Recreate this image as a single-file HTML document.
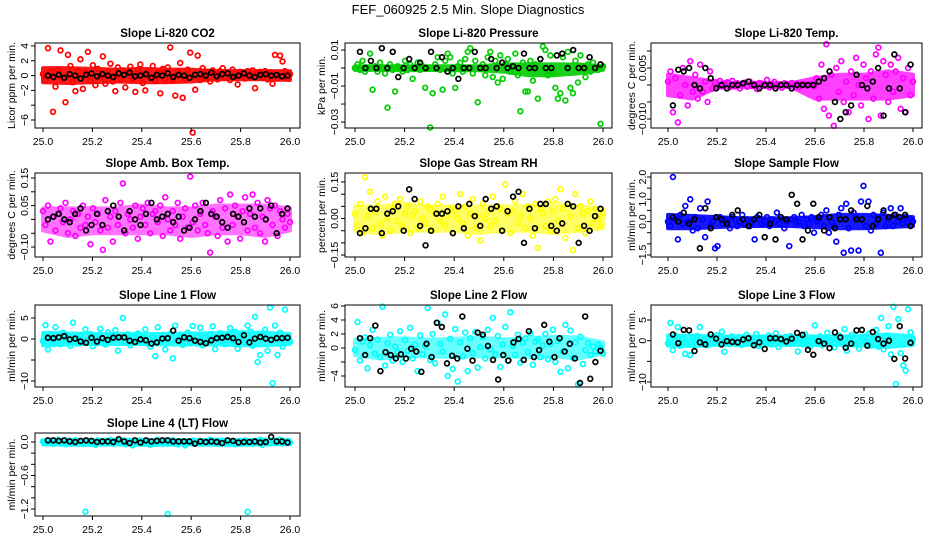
<!DOCTYPE html>
<html><head><meta charset="utf-8"><style>
html,body{margin:0;padding:0;background:#fff;}
svg text{font-family:"Liberation Sans",Arial,sans-serif;fill:#000;}
</style></head><body>
<svg id="chart" width="936" height="540" viewBox="0 0 936 540" xmlns="http://www.w3.org/2000/svg">
<rect width="936" height="540" fill="#fff"/>
<text x="468" y="14" text-anchor="middle" font-size="13">FEF_060925  2.5 Min. Slope Diagnostics</text>
</svg>
<script>
const xTickValues=[25.0,25.2,25.4,25.6,25.8,26.0];
const xTickLabels=["25.0","25.2","25.4","25.6","25.8","26.0"];
const bandX=[25.0,25.1,25.2,25.3,25.4,25.5,25.6,25.7,25.8,25.9,26.0];
const panelTitles=["Slope Li-820 CO2","Slope Li-820 Pressure","Slope Li-820 Temp.","Slope Amb. Box Temp.","Slope Gas Stream RH","Slope Sample Flow","Slope Line 1 Flow","Slope Line 2 Flow","Slope Line 3 Flow","Slope Line 4 (LT) Flow"];
const yAxisTitles=["Licor ppm per min.","kPa per min.","degrees C per min.","degrees C per min.","percent per min.","ml/min per min.","ml/min per min.","ml/min per min.","ml/min per min.","ml/min per min."];
const yTicks=[[4,2,0,-2,-4,-6],[0.01,0,-0.01,-0.02,-0.03],[0.01,0.005,0,-0.005,-0.01],[0.15,0.1,0.05,0,-0.05,-0.1],[0.15,0.1,0.05,0,-0.05,-0.1,-0.15],[2,1.5,1,0.5,0,-0.5,-1,-1.5],[5,0,-5,-10],[6,4,2,0,-2,-4],[5,0,-5,-10],[0,-0.2,-0.4,-0.6,-0.8,-1,-1.2]];
const yTickLabels=[["4","2","0","\u22122","","\u22126"],["0.01","","\u22120.01","","\u22120.03"],["","0.005","","","\u22120.010"],["0.15","","0.05","","","\u22120.10"],["0.15","","","0.00","","","\u22120.15"],["2.0","","1.0","","0.0","","","\u22121.5"],["5","0","","\u221210"],["6","4","2","0","","\u22124"],["5","0","","\u221210"],["0.0","","","\u22120.6","","","\u22121.2"]];
const yDomains=[[-7.08,4.4],[-0.0333,0.0139],[-0.01265,0.01235],[-0.136,0.168],[-0.158,0.187],[-1.59,2.18],[-11.43,8.1],[-5.57,6.14],[-11.2,8.63],[-1.325,0.161]];
const seriesColors=["#ff0000","#00cd00","#ff00ff","#ff00ff","#ffff00","#0000ff","#00ffff","#00ffff","#00ffff","#00ffff"];
const bandOpacity=[0.9,0.9,0.75,0.55,0.6,0.9,0.85,0.6,0.85,0.9];
const bandHi=[[1.0,1.0,0.9,0.8,0.9,0.8,0.8,0.6,0.6,0.6,0.6],[0.001,0.001,0.001,0.001,0.001,0.001,0.002,0.002,0.002,0.002,0.001],[0.003,0.002,0.0008,0.0006,0.0006,0.0005,0.002,0.003,0.003,0.004,0.003],[0.04,0.04,0.04,0.04,0.05,0.04,0.04,0.05,0.05,0.05,0.04],[0.05,0.05,0.06,0.05,0.05,0.05,0.05,0.05,0.06,0.05,0.04],[0.3,0.25,0.2,0.15,0.15,0.15,0.2,0.3,0.3,0.25,0.2],[1.5,1.3,1.2,1.2,1.2,1.2,1.3,1.4,1.6,1.5,1.2],[1.2,1.3,1.4,1.2,1.3,1.5,1.2,1.4,1.6,1.5,0.8],[1.2,1.2,1.0,1.0,1.0,1.0,1.0,1.0,1.2,1.5,1.0],[0.03,0.04,0.03,0.04,0.03,0.04,0.03,0.04,0.03,0.04,0.03]];
const bandLo=[[-0.9,-1.0,-0.9,-0.8,-0.9,-0.9,-0.8,-0.5,-0.5,-0.5,-0.6],[-0.001,-0.001,-0.0012,-0.001,-0.0012,-0.0012,-0.002,-0.004,-0.004,-0.003,-0.001],[-0.003,-0.004,-0.0008,-0.0006,-0.0006,-0.0005,-0.004,-0.004,-0.004,-0.004,-0.003],[-0.04,-0.06,-0.05,-0.05,-0.05,-0.05,-0.06,-0.05,-0.05,-0.06,-0.04],[-0.05,-0.06,-0.05,-0.05,-0.05,-0.06,-0.05,-0.05,-0.06,-0.05,-0.04],[-0.3,-0.3,-0.25,-0.2,-0.2,-0.2,-0.25,-0.3,-0.3,-0.25,-0.2],[-1.5,-1.3,-1.2,-1.2,-1.2,-1.3,-1.3,-1.3,-1.5,-1.5,-1.2],[-1.0,-1.5,-1.2,-1.2,-1.3,-1.2,-1.2,-1.3,-1.2,-1.5,-0.8],[-1.2,-1.3,-1.0,-1.0,-1.0,-1.0,-1.0,-1.0,-1.2,-1.5,-1.0],[-0.04,-0.05,-0.05,-0.04,-0.05,-0.05,-0.04,-0.05,-0.05,-0.04,-0.04]];
const co2Color=[0.2,-0.6,3.7,0.5,-4.9,-1.5,0.8,3.4,-0.4,-3.6,2.8,1.3,-0.9,-2.1,0.6,2.2,-1.8,0.4,3.2,-0.7,1.4,-1.3,0.9,-0.2,2.6,-1.1,0.5,1.6,-0.8,-2.1,1.1,-0.5,0.7,-1.6,0.3,1.2,-0.4,-2.2,0.8,1.5,-1.0,-2.0,0.6,-0.3,1.3,-0.7,0.4,-2.4,0.9,-0.5,1.1,3.8,-0.6,-2.7,0.5,1.7,-3.0,-0.4,0.8,3.1,-7.7,-1.9,2.7,-0.6,1.0,-0.3,0.5,-0.8,0.7,0.2,-0.5,0.6,1.0,-0.3,0.4,-0.6,0.8,-0.2,-1.2,0.5,0.3,-0.4,0.6,-0.2,0.7,-1.7,0.3,0.5,-0.3,0.6,-0.5,0.4,-1.1,2.8,-0.4,2.7,1.9,0.6,-0.3,0.2];
const co2Black=[0.0,-0.2,0.1,-0.3,0.2,0.0,-0.4,0.1,0.3,-0.1,0.2,0.0,-0.2,0.3,0.1,0.4,-0.1,0.0,0.2,-0.3,0.1,0.0,0.3,-0.2,0.1,0.0,-0.3,0.1,0.2,0.0,0.4,-0.1,0.2,0.3,-0.2,0.0,0.3,0.0,-0.2,0.1,0.2,0.0,0.1,-0.1,0.0];
const presColor=[0.000,0.002,-0.001,0.004,-0.002,0.000,0.008,-0.012,0.001,-0.002,0.003,0.000,-0.003,-0.022,0.002,-0.001,-0.013,0.001,0.000,-0.002,0.004,-0.001,0.002,-0.006,0.000,0.003,-0.001,0.001,-0.011,0.000,-0.033,-0.014,0.002,0.006,-0.001,-0.012,0.004,0.008,0.006,-0.003,-0.011,0.001,0.003,-0.002,0.005,0.009,0.011,-0.003,0.004,-0.019,0.000,0.002,-0.004,0.006,0.009,-0.005,0.004,-0.008,0.007,-0.006,0.002,0.005,-0.002,0.001,0.008,-0.004,-0.024,0.003,-0.013,-0.013,0.004,-0.007,0.002,-0.017,0.005,0.012,0.010,-0.004,0.007,-0.002,-0.011,-0.017,-0.014,0.006,-0.018,0.009,-0.011,-0.014,0.004,-0.008,0.007,0.001,-0.005,0.002,-0.002,0.003,0.000,-0.001,-0.031,0.001];
const presBlack=[0.009,0.000,0.004,0.000,0.011,0.000,0.009,-0.005,0.000,0.005,0.000,0.003,0.000,0.009,0.000,0.006,-0.002,0.000,-0.006,0.000,0.000,0.009,0.000,0.000,0.005,0.000,0.003,0.000,0.001,0.000,0.008,0.000,0.000,0.005,0.000,0.000,0.007,0.008,0.000,0.010,0.000,0.000,0.006,0.000,0.002];
const tempColor=[0.001,0.004,-0.008,0.002,-0.011,-0.003,0.005,0.000,-0.006,0.007,-0.002,0.003,-0.004,0.006,-0.002,0.001,-0.005,0.004,-0.001,0.0008,-0.0006,0.0012,-0.0004,0.0005,0.0008,-0.0006,0.0012,-0.0004,0.0005,-0.0010,0.0003,0.0007,-0.0005,0.0010,-0.0003,0.0002,-0.0012,0.0006,0.0004,-0.0002,0.0015,-0.0007,0.0003,0.0009,-0.0004,0.0001,-0.0008,0.0005,0.0002,-0.0003,0.0006,-0.0001,0.0004,-0.0006,0.0003,0.0002,-0.0002,0.0001,0.0003,-0.0004,0.002,-0.004,0.006,-0.007,0.012,-0.009,0.003,-0.012,0.005,-0.002,0.007,-0.005,0.001,-0.008,0.004,-0.003,0.008,0.000,-0.006,0.006,0.002,-0.010,0.004,-0.004,0.009,0.011,-0.009,0.007,0.003,-0.005,0.006,-0.002,0.004,0.008,-0.007,0.002,-0.008,0.005,-0.003,0.001];
const tempBlack=[-0.006,0.0045,0.004,0.005,0.000,-0.001,0.005,0.002,-0.001,0.0,-0.001,0.000,0.000,0.0005,0.001,0.000,-0.001,0.000,0.000,-0.001,0.000,0.000,-0.001,0.000,0.000,0.000,0.000,0.001,0.002,0.004,-0.005,-0.010,-0.008,-0.006,0.003,0.000,-0.001,0.001,0.005,-0.009,-0.001,0.009,-0.001,-0.008,0.006];
const boxColor=[0.03,-0.02,0.05,-0.08,0.01,-0.04,0.02,0.04,-0.01,0.06,-0.05,0.00,0.03,-0.06,0.02,-0.03,0.05,-0.02,0.01,-0.09,0.04,-0.01,0.02,-0.04,-0.11,0.07,-0.03,0.01,-0.08,0.03,-0.02,0.06,0.13,-0.05,0.02,0.00,-0.03,0.05,-0.07,0.01,0.04,-0.02,0.06,-0.05,0.02,0.03,-0.01,0.05,-0.06,0.08,0.00,-0.04,0.03,-0.02,0.06,-0.07,0.01,0.04,-0.03,0.155,-0.01,0.05,-0.04,0.02,0.06,-0.02,-0.05,-0.12,0.03,0.01,-0.06,0.07,-0.03,0.04,-0.08,0.09,-0.02,0.05,0.01,-0.07,0.03,0.08,-0.04,0.02,0.09,-0.03,0.06,-0.05,0.01,-0.08,0.07,0.04,-0.02,0.05,-0.06,0.03,0.00,-0.03,0.02,-0.01];
const boxBlack=[0.00,0.01,0.02,0.00,-0.01,0.02,0.04,-0.04,-0.02,0.02,-0.02,0.03,0.05,0.01,-0.04,0.03,0.00,-0.02,0.02,0.06,0.00,0.01,0.02,-0.01,0.01,-0.04,-0.03,0.00,0.03,0.06,0.02,0.01,-0.01,-0.03,0.02,0.01,-0.01,0.04,0.01,0.04,0.00,0.05,-0.05,0.02,0.04];
const rhColor=[0.02,-0.03,0.06,-0.06,0.17,0.01,0.11,-0.04,0.03,0.07,-0.02,-0.07,0.09,0.00,-0.05,0.04,0.06,-0.01,0.08,-0.03,0.02,0.05,-0.06,0.01,0.03,-0.04,0.07,0.00,-0.02,0.05,0.04,-0.05,0.02,0.06,-0.01,0.09,-0.03,0.01,0.04,-0.06,0.03,0.00,0.10,-0.02,0.05,-0.07,0.02,0.08,-0.04,0.01,-0.09,0.06,0.00,0.03,-0.03,0.09,-0.01,0.05,0.04,-0.05,0.14,0.02,-0.06,0.03,0.07,-0.02,0.01,0.10,-0.04,0.05,0.00,-0.07,0.06,-0.12,0.04,0.02,-0.03,0.07,-0.05,0.03,0.08,-0.01,0.12,0.04,-0.08,0.06,0.01,-0.13,0.10,-0.04,0.05,0.02,-0.06,0.03,0.07,-0.02,0.04,0.00,-0.03,0.02];
const rhBlack=[-0.06,-0.04,0.04,0.04,-0.06,0.02,0.03,0.05,-0.05,0.12,0.08,-0.03,-0.11,-0.05,0.02,0.02,0.03,-0.06,0.05,-0.04,0.06,0.01,-0.03,0.08,0.04,0.05,-0.05,0.03,0.09,0.11,-0.10,0.04,-0.04,0.06,0.06,-0.03,-0.05,-0.02,0.06,0.05,-0.10,-0.03,-0.05,0.01,0.04];
const sampColor=[0.0,-0.2,2.0,0.1,-0.8,0.3,-0.1,0.7,0.0,1.0,-0.4,0.2,-0.3,0.6,0.1,-0.7,0.9,-0.2,0.0,-1.2,-1.1,0.2,-0.1,0.1,0.0,-0.3,0.2,0.1,-0.2,0.0,0.3,-0.1,0.1,-0.2,0.0,-0.8,0.2,0.1,-0.1,0.0,0.2,-0.2,0.1,0.0,0.4,-0.1,0.1,-0.3,0.0,-1.1,0.1,0.2,-0.1,0.0,0.3,-0.2,0.1,-0.1,0.2,-0.5,0.0,0.1,0.3,-0.2,0.5,-0.5,0.0,-0.2,-0.9,0.3,0.6,-1.4,0.8,-0.3,-1.3,0.4,0.2,-1.3,0.9,1.6,-0.2,0.9,-0.4,0.3,-0.1,0.2,-1.4,0.4,-0.2,0.1,0.6,-0.2,0.3,0.0,0.6,-0.1,0.2,0.0,0.1,0.0];
const sampBlack=[0.2,0.0,0.4,-0.1,0.1,-1.2,0.6,-0.3,0.2,0.1,-0.1,0.3,0.5,0.1,-0.2,0.1,0.3,-0.7,-0.1,-0.8,0.2,0.1,1.2,0.8,-0.8,-0.4,0.8,0.2,-0.4,0.2,-0.3,0.1,0.1,0.5,0.1,0.1,0.7,-0.2,0.1,0.5,0.2,0.3,0.2,0.3,-0.2];
const line1Color=[-0.5,3.3,-2.5,1.0,-0.8,2.8,0.3,-1.2,1.5,-0.4,0.8,-1.6,3.9,0.2,-1.1,0.9,-0.6,2.3,-0.3,1.2,-1.7,0.5,-0.9,2.4,0.1,-1.3,1.6,-0.2,0.7,2.1,-2.8,0.4,5.0,-0.7,1.1,-1.5,0.6,-0.1,1.3,-0.8,0.2,2.3,-1.0,-1.8,0.5,-4.1,2.8,-0.6,0.9,-2.5,0.1,1.2,-4.6,3.2,-0.3,0.8,-1.4,0.2,1.5,-0.9,3.1,-0.2,0.6,2.7,-1.5,0.3,-0.7,1.1,3.0,-2.4,0.4,1.4,-0.5,-1.2,0.8,2.6,-0.4,1.7,-2.3,0.5,1.0,-0.8,3.2,1.8,-1.6,5.3,-5.5,-3.8,0.9,2.2,-2.8,7.5,-10.5,3.2,-3.8,1.5,-1.8,7.0,0.4,-0.6];
const line1Black=[0.3,0.2,0.4,0.7,-0.1,0.1,-0.6,-0.9,0.3,-0.6,0.2,-0.2,0.3,0.4,0.4,-0.4,-0.7,-0.1,-0.3,-1.1,-0.8,0.1,0.2,2.0,-0.4,0.4,0.2,-0.4,-0.7,-1.0,-0.3,0.2,0.3,0.5,0.2,-0.7,0.9,-0.8,0.1,0.5,0.1,-0.2,0.2,0.2,0.3];
const line2Color=[-0.3,3.7,-1.8,0.9,1.5,-2.9,0.4,2.6,-0.8,1.2,-1.3,5.9,-2.5,0.7,1.9,-1.8,0.2,-0.6,2.4,-2.0,1.1,-0.4,2.9,-1.5,0.5,-3.3,1.8,-0.9,0.3,5.7,-1.7,2.0,-2.2,3.6,0.6,-0.5,4.8,-4.0,1.3,-3.0,2.7,-4.8,0.8,-1.2,2.2,-3.3,1.4,-0.7,2.3,-2.8,0.1,1.6,-1.5,2.6,-0.2,4.3,-0.9,1.7,-2.7,0.5,3.0,-1.8,5.1,0.3,-1.0,1.9,-2.1,0.7,1.4,-0.6,2.1,-2.4,0.9,1.2,-1.3,0.4,2.0,-1.6,0.6,2.6,-2.0,1.0,-3.4,-0.5,3.3,-2.9,2.5,-1.4,0.8,-5.2,1.6,-2.3,-0.3,0.7,-1.0,0.2,-0.5,0.5,0.1,-0.8];
const line2Black=[1.4,-1.0,1.4,3.2,-3.3,-0.6,-1.0,-1.5,-0.9,-1.5,-0.1,-0.5,-3.4,0.6,-1.3,3.6,3.0,-2.2,-1.1,-1.5,4.5,-0.1,-1.8,2.2,1.9,0.3,-1.7,-4.5,-1.0,-1.8,0.8,1.3,-1.7,2.4,-1.3,-0.3,3.3,0.9,-1.3,1.4,-0.5,0.6,-1.5,-5.0,4.5,-4.4,-2.0,-0.4];
const line3Color=[-0.6,4.3,-2.3,1.2,3.3,-1.2,0.5,-3.2,-0.9,-3.5,0.8,-0.3,1.1,3.3,-0.7,0.4,-1.1,0.9,0.2,-0.5,1.3,-0.2,2.2,-2.7,0.6,-0.8,1.0,0.1,-0.4,0.9,-1.0,0.3,1.4,-0.6,0.5,-0.2,1.6,-1.3,0.7,0.1,-0.5,1.2,-0.9,0.4,1.8,-1.5,0.3,-0.1,0.9,-0.6,1.1,-0.3,0.2,-2.6,0.8,-0.9,1.5,0.1,-1.4,0.6,3.7,-0.7,1.0,-1.1,0.4,1.9,-0.3,0.7,-1.6,0.2,1.2,-0.5,2.8,-2.4,0.6,1.4,-0.8,2.5,-1.9,0.3,1.0,-0.4,1.7,-1.2,0.5,2.6,-1.5,5.5,-2.1,1.1,3.5,-3.3,8.2,-10.5,5.2,-3.0,-6.0,-7.2,7.6,2.0,0.3];
const line3Black=[1.5,-0.6,2.6,2.5,-2.5,-0.4,-0.9,1.5,0.5,-0.9,-0.1,-0.3,-0.4,0.3,0.6,-1.1,-0.4,-2.0,0.6,0.6,0.4,-0.2,0.5,1.9,1.4,-2.2,-3.4,-0.1,-0.7,-1.8,2.0,0.8,-1.7,-0.7,2.5,2.6,-1.2,2.1,0.4,-0.7,0.0,-4.4,3.5,-4.3,-0.5];
const line4Color=[0.01,-0.02,0.03,0.0,-0.03,0.02,0.04,-0.01,0.01,-0.04,0.02,0.0,-0.02,0.03,-0.01,0.01,-0.03,-1.25,0.02,-0.02,0.01,-0.05,0.03,0.0,-0.02,0.02,-0.01,0.04,-0.03,0.0,0.01,-0.02,0.03,-0.04,0.0,0.02,-0.06,0.01,-0.01,0.03,-0.02,0.0,0.02,-0.05,0.01,-0.03,0.04,0.0,-0.01,0.02,-1.29,-0.02,0.03,0.01,-0.04,0.0,0.02,-0.06,0.01,-0.01,0.03,-0.02,0.0,0.02,-0.03,0.01,-0.01,0.04,-0.02,0.0,0.01,-0.03,0.02,-0.01,0.03,-0.02,0.0,-0.04,0.01,0.02,-0.02,0.03,-1.25,0.0,-0.03,0.02,-0.01,0.04,-0.05,0.0,0.02,-0.02,0.03,-0.01,0.01,0.04,-0.02,0.0,0.02,-0.01];
const line4Black=[0.03,0.03,0.02,0.03,0.01,0.0,0.02,0.03,0.02,0.0,0.01,0.01,0.0,0.05,0.01,-0.02,0.03,-0.01,0.03,0.01,0.02,0.03,0.03,0.01,0.01,0.01,0.01,-0.03,0.01,0.0,0.01,0.0,-0.02,0.03,0.02,-0.01,0.0,0.0,0.01,-0.01,0.0,0.09,0.01,0.01,-0.01];
const colorSeries=[co2Color,presColor,tempColor,boxColor,rhColor,sampColor,line1Color,line2Color,line3Color,line4Color];
const blackSeries=[co2Black,presBlack,tempBlack,boxBlack,rhBlack,sampBlack,line1Black,line2Black,line3Black,line4Black];

const NS="http://www.w3.org/2000/svg";
const svg=document.getElementById('chart');
const cols=[{l:35,r:300,x0:43,x1:290,yl:12,tl:25},{l:345,r:612,x0:355,x1:603,yl:322,tl:335},{l:651,r:922,x0:668,x1:913,yl:632,tl:643}];
const rows=[{t:43,b:128},{t:173,b:257},{t:305,b:387},{t:433,b:516}];
function mk(tag,attrs,parent){const e=document.createElementNS(NS,tag);for(const k in attrs)e.setAttribute(k,attrs[k]);parent.appendChild(e);return e;}
for(let p=0;p<10;p++){
  const c=cols[p%3], r=rows[Math.floor(p/3)];
  const g=mk('g',{},svg);
  
  
  const [ymin,ymax]=yDomains[p];
  const xs=v=>c.x0+(v-25)*(c.x1-c.x0);
  const ys=v=>r.b-(v-ymin)/(ymax-ymin)*(r.b-r.t);
  const title=mk('text',{x:(c.l+c.r)/2,y:r.t-6,'text-anchor':'middle','font-size':'11.5','font-weight':'bold'},g);
  title.textContent=panelTitles[p];
  
  
  const yt=mk('text',{x:c.yl,y:(r.t+r.b)/2,'text-anchor':'middle','font-size':'10.5',transform:`rotate(-90 ${c.yl} ${(r.t+r.b)/2})`,'dominant-baseline':'middle'},g);
  yt.textContent=yAxisTitles[p];
  
  
  const hi=bandHi[p], lo=bandLo[p];
  let pts=bandX.map((x,i)=>xs(x)+','+ys(hi[i]));
  pts=pts.concat(bandX.map((x,i)=>xs(x)+','+ys(lo[i])).reverse());
  const band=mk('polygon',{points:pts.join(' '),fill:seriesColors[p],stroke:seriesColors[p],'stroke-width':4,'stroke-linejoin':'round',opacity:bandOpacity[p]},g);
  
  
  const cs=colorSeries[p];
  cs.forEach((v,i)=>{
    const pt=mk('circle',{cx:xs(25+i/(cs.length-1)),cy:ys(v),r:2.4,fill:'none',stroke:seriesColors[p],'stroke-width':1.7},g);
    
    
  });
  const bs=blackSeries[p];
  bs.forEach((v,i)=>{
    const pt=mk('circle',{cx:xs(25.02+i*0.97/(bs.length-1)),cy:ys(v),r:2.4,fill:'none',stroke:'#000','stroke-width':1.7},g);
    
    
  });
  const box=mk('rect',{x:c.l,y:r.t,width:c.r-c.l,height:r.b-r.t,fill:'none',stroke:'#000','stroke-width':1},g);
  
  
  xTickValues.forEach((v,i)=>{
    const x=xs(v);
    mk('line',{x1:x,x2:x,y1:r.b,y2:r.b+4,stroke:'#000'},g);
    const t=mk('text',{x:x,y:r.b+17,'text-anchor':'middle','font-size':'10.5'},g);
    t.textContent=xTickLabels[i];
    
    
  });
  yTicks[p].forEach((v,i)=>{
    const y=ys(v);
    mk('line',{x1:c.l-4,x2:c.l,y1:y,y2:y,stroke:'#000'},g);
    if(yTickLabels[p][i]){
      const t=mk('text',{x:c.tl,y:y,'text-anchor':'middle','font-size':'10.5','dominant-baseline':'middle',transform:`rotate(-90 ${c.tl} ${y})`},g);
      t.textContent=yTickLabels[p][i];
      
      
    }
  });
}
</script>
</body></html>
